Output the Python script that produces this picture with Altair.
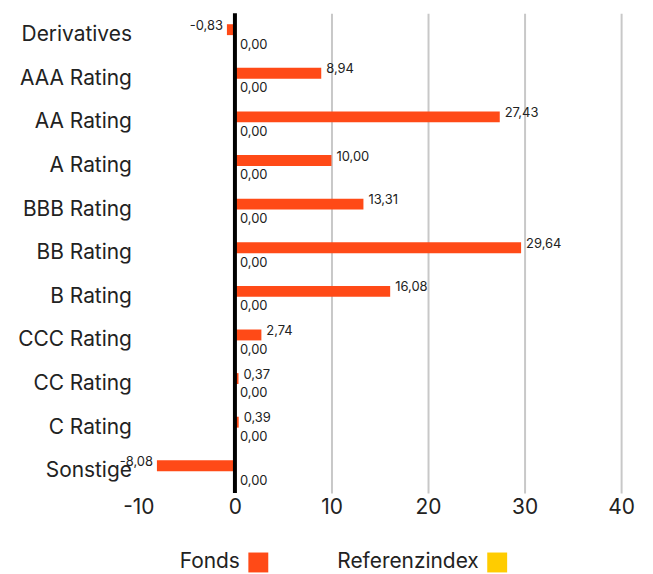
import altair as alt
import pandas as pd

categories = ["Derivatives", "AAA Rating", "AA Rating", "A Rating", "BBB Rating",
              "BB Rating", "B Rating", "CCC Rating", "CC Rating", "C Rating", "Sonstige"]
fonds = [-0.83, 8.94, 27.43, 10.00, 13.31, 29.64, 16.08, 2.74, 0.37, 0.39, -8.08]
referenz = [0.00] * 11
series = ["Fonds", "Referenzindex"]
colors = ["#FF4A17", "#FFCC00"]
x_ticks = [-10, 0, 10, 20, 30, 40]

rows = []
for c, f, r in zip(categories, fonds, referenz):
    rows.append({"cat": c, "series": "Fonds", "value": f})
    rows.append({"cat": c, "series": "Referenzindex", "value": r})
df = pd.DataFrame(rows)
df["label"] = df["value"].map(lambda v: f"{v:.2f}".replace(".", ","))

FONT = "Inter"

y_enc = alt.Y("cat:N", sort=categories, title=None,
              scale=alt.Scale(paddingInner=0.5, paddingOuter=0.25),
              axis=alt.Axis(labelFontSize=21, labelColor="#222", domain=False, ticks=False,
                            labelPadding=7, grid=False, labelFont=FONT))
x_enc = alt.X("value:Q", title=None,
              scale=alt.Scale(domain=[-10, 40], nice=False),
              axis=alt.Axis(values=x_ticks, labelFontSize=21, labelColor="#222", domain=False,
                            ticks=False, labelPadding=4, labelFont=FONT, labelFlush=False,
                            labelExpr="replace(datum.label, '\u2212', '-')",
                            gridColor="#c8c8c8", gridWidth=2,
                            gridOpacity={"condition": {"test": "datum.value <= 0", "value": 0}, "value": 1}))
yoff = alt.YOffset("series:N", sort=series, scale=alt.Scale(paddingInner=0, paddingOuter=0))

bars = alt.Chart(df).mark_bar().encode(
    y=y_enc, x=x_enc, yOffset=yoff,
    color=alt.Color("series:N", sort=series,
                    scale=alt.Scale(domain=series, range=colors),
                    legend=alt.Legend(title=None, orient="none", legendX=110, legendY=541,
                                      direction="horizontal", symbolType="square",
                                      symbolSize=400, symbolStrokeWidth=0, labelFontSize=21,
                                      labelColor="#222", labelFont=FONT, labelAlign="right",
                                      labelOffset={"expr": "-29"}, columnPadding=68)),
)

fonds_pos = alt.Chart(df).transform_filter("datum.series == 'Fonds' && datum.value >= 0").mark_text(
    align="left", dx=5, dy=-4, fontSize=13, font=FONT, color="#222").encode(
    y=y_enc, x=x_enc, yOffset=yoff, text="label:N")
fonds_neg = alt.Chart(df).transform_filter("datum.series == 'Fonds' && datum.value < 0").mark_text(
    align="right", dx=-4, dy=-4, fontSize=13, font=FONT, color="#222").encode(
    y=y_enc, x=x_enc, yOffset=yoff, text="label:N")
ref_lab = alt.Chart(df).transform_filter("datum.series == 'Referenzindex'").mark_text(
    align="left", dx=5, dy=4, fontSize=13, font=FONT, color="#222").encode(
    y=y_enc, x=x_enc, yOffset=yoff, text="label:N")

zero = alt.Chart(pd.DataFrame({"z": [0]})).mark_rule(color="black", strokeWidth=4).encode(
    x=alt.X("z:Q", scale=alt.Scale(domain=[-10, 40], nice=False)))

chart = alt.layer(bars, zero, fonds_pos, fonds_neg, ref_lab).properties(
    width=485, height=482, padding={"left": 9, "top": 2, "right": 10, "bottom": 3}
).configure(font=FONT).configure_view(stroke=None)

chart.save("out.html", embed_options={"renderer": "svg", "actions": False})
